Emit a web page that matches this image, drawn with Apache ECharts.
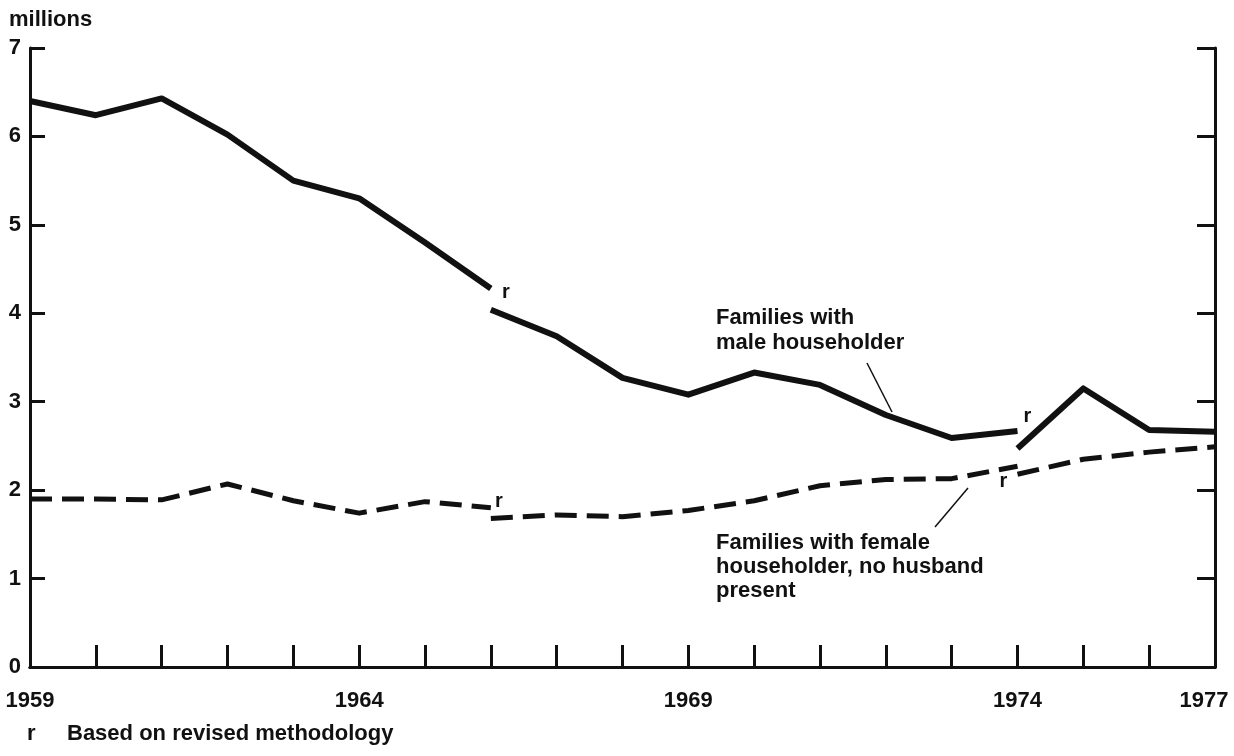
<!DOCTYPE html>
<html>
<head>
<meta charset="utf-8">
<script src="https://cdn.jsdelivr.net/npm/echarts@6/dist/echarts.min.js"></script>
<style>
  html, body { margin: 0; padding: 0; background: #fff; }
  #chart { width: 1234px; height: 756px; }
</style>
</head>
<body>
<div id="chart"></div>
<script>
// values in millions; breaks mark the revised methodology
const maleBefore1966 = [[1959, 6.4], [1960, 6.24], [1961, 6.43], [1962, 6.02], [1963, 5.5], [1964, 5.3], [1965, 4.8], [1966, 4.28]]
const maleRevised1966 = [[1966, 4.04], [1967, 3.74], [1968, 3.27], [1969, 3.08], [1970, 3.33], [1971, 3.19], [1972, 2.85], [1973, 2.59], [1974, 2.67]]
const maleRevised1974 = [[1974, 2.47], [1975, 3.15], [1976, 2.68], [1977, 2.66]]

const femaleBefore1966 = [[1959, 1.9], [1960, 1.9], [1961, 1.89], [1962, 2.07], [1963, 1.88], [1964, 1.74], [1965, 1.87], [1966, 1.8]]
const femaleRevised1966 = [[1966, 1.68], [1967, 1.72], [1968, 1.7], [1969, 1.77], [1970, 1.88], [1971, 2.05], [1972, 2.12], [1973, 2.13], [1974, 2.27]]
const femaleRevised1974 = [[1974, 2.18], [1975, 2.35], [1976, 2.43], [1977, 2.49]]

const yearLabels = [1959, 1964, 1969, 1974, 1977]

const chart = echarts.init(document.getElementById('chart'))
const FONT = 'Liberation Sans'
const INK = '#111'

const solid = { color: INK, width: 6, type: 'solid', cap: 'butt', join: 'round' }
const dashed = { color: INK, width: 5, type: [22, 10], cap: 'butt', join: 'round' }

// put an "r" next to the first point of a revised segment
const markR = (data, offset) => data.map((d, i) => i === 0
  ? { value: d, label: { show: true, position: 'top', formatter: 'r', offset: offset, fontFamily: FONT, fontSize: 20, fontWeight: 'bold', color: INK } }
  : d)

const lineSeries = (data, style) => ({
  type: 'line',
  data: data,
  showSymbol: true,
  symbol: 'circle',
  symbolSize: 0,
  itemStyle: { color: INK },
  lineStyle: style,
  silent: true,
  label: { show: false },
  z: 3
})

const option = {
  animation: false,
  backgroundColor: '#fff',
  grid: { left: 30, right: 19, top: 48, bottom: 89, containLabel: false, outerBoundsMode: 'none' },
  xAxis: [
    {
      type: 'value',
      min: 1959,
      max: 1977,
      interval: 1,
      axisLine: { show: true, lineStyle: { color: INK, width: 3 } },
      axisTick: { show: true, inside: true, length: 22, lineStyle: { color: INK, width: 3 } },
      splitLine: { show: false },
      axisLabel: {
        margin: 23,
        fontFamily: FONT,
        fontSize: 22,
        fontWeight: 'bold',
        color: INK,
        // last label sits a little left of the corner, as in the original
        formatter: v => v === 1977 ? '{last|1977}' : (yearLabels.includes(v) ? String(v) : ''),
        rich: {
          last: { fontFamily: FONT, fontSize: 22, fontWeight: 'bold', color: INK, padding: [0, 22, 0, 0] }
        }
      }
    },
    {
      type: 'value',
      position: 'top',
      min: 1959,
      max: 1977,
      axisLine: { show: true, lineStyle: { color: INK, width: 3 } },
      axisTick: { show: false },
      axisLabel: { show: false },
      splitLine: { show: false }
    }
  ],
  yAxis: [
    {
      type: 'value',
      min: 0,
      max: 7,
      interval: 1,
      axisLine: { show: true, lineStyle: { color: INK, width: 3 } },
      axisTick: { show: true, inside: true, length: 15, lineStyle: { color: INK, width: 3 } },
      splitLine: { show: false },
      axisLabel: { margin: 9, fontFamily: FONT, fontSize: 22, fontWeight: 'bold', color: INK }
    },
    {
      type: 'value',
      position: 'right',
      min: 0,
      max: 7,
      interval: 1,
      axisLine: { show: true, lineStyle: { color: INK, width: 3 } },
      axisTick: { show: true, inside: true, length: 18, lineStyle: { color: INK, width: 3 } },
      axisLabel: { show: false },
      splitLine: { show: false }
    }
  ],
  series: [
    lineSeries(maleBefore1966, solid),
    lineSeries(markR(maleRevised1966, [15, -2]), solid),
    lineSeries(markR(maleRevised1974, [10, -17]), solid),
    lineSeries(femaleBefore1966, dashed),
    lineSeries(markR(femaleRevised1966, [8, -2]), dashed),
    lineSeries(markR(femaleRevised1974, [-14, 22]), dashed)
  ],
  graphic: [
    { type: 'text', left: 9, top: 9, style: { text: 'millions', font: 'bold 22px ' + FONT, fill: INK } },
    { type: 'text', left: 716, top: 305, style: { text: 'Families with\nmale householder', font: 'bold 22px ' + FONT, fill: INK, lineHeight: 25 } },
    { type: 'line', shape: { x1: 867, y1: 363, x2: 892, y2: 412 }, style: { stroke: INK, lineWidth: 1.5 } },
    { type: 'text', left: 716, top: 531, style: { text: 'Families with female\nhouseholder, no husband\npresent', font: 'bold 22px ' + FONT, fill: INK, lineHeight: 24 } },
    { type: 'line', shape: { x1: 935, y1: 527, x2: 968, y2: 488 }, style: { stroke: INK, lineWidth: 1.5 } },
    { type: 'text', left: 27, top: 723, style: { text: 'r', font: 'bold 22px ' + FONT, fill: INK } },
    { type: 'text', left: 67, top: 723, style: { text: 'Based on revised methodology', font: 'bold 22px ' + FONT, fill: INK } }
  ]
}

chart.setOption(option)
window.addEventListener('resize', () => chart.resize())
</script>
</body>
</html>
